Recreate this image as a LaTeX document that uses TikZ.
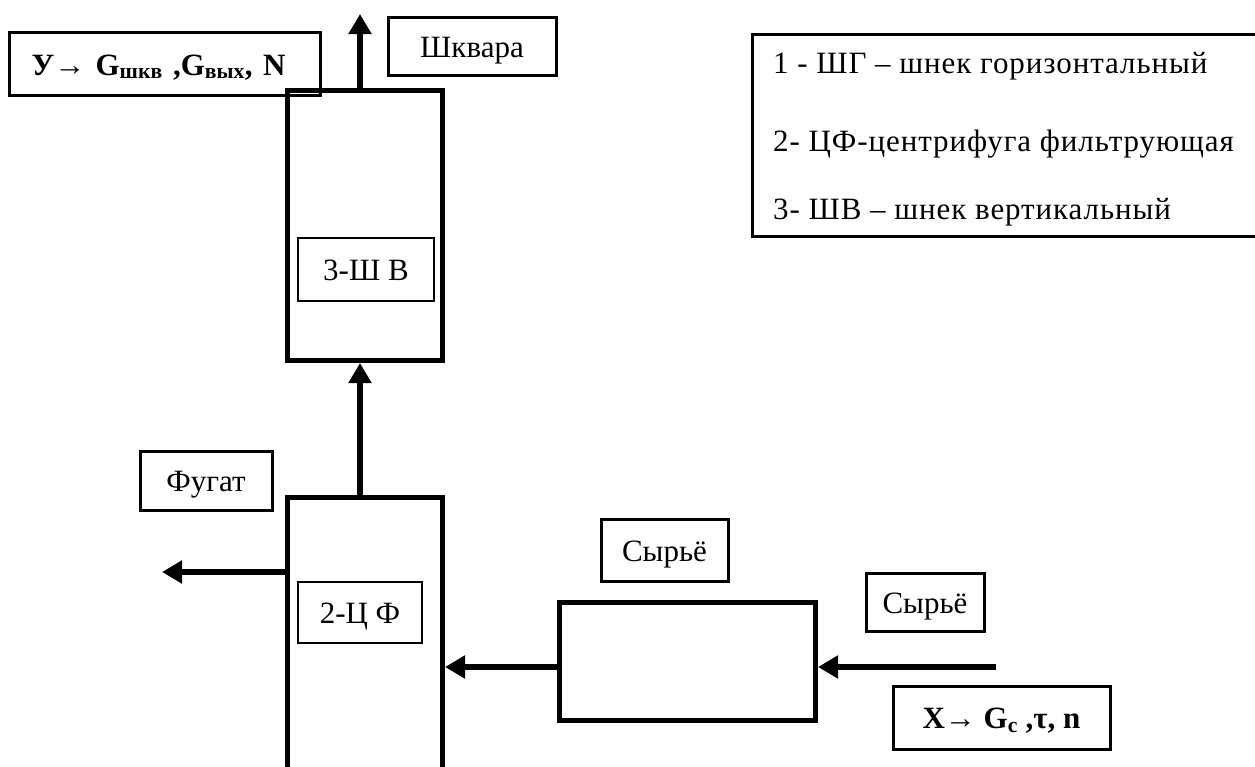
\documentclass[tikz,border=0pt]{standalone}
\usepackage{fontspec}
\setmainfont{Liberation Serif}
\usetikzlibrary{arrows.meta}
\begin{document}
\begin{tikzpicture}[x=1pt,y=-1pt,
  font=\fontsize{31}{36}\selectfont,
  thickbox/.style={draw,line width=5pt,inner sep=0pt},
  thinbox/.style={draw,line width=2.5pt,inner sep=0pt,text height=22pt,text depth=0pt},
  labelbox/.style={draw,line width=3pt,inner sep=0pt,text height=22pt,text depth=0pt},
  legendtext/.style={anchor=base west,inner sep=0pt,font=\fontsize{31}{36}\selectfont\addfontfeature{LetterSpace=3}},
  arr/.style={line width=6pt,-{Triangle[length=20pt,width=22pt]}}]
\useasboundingbox (0,0) rectangle (1255,766);
\clip (0,0) rectangle (1255,766);
% process units
\node[thickbox,minimum width=155pt,minimum height=270pt] (shv) at (365,225.5) {};
\node[thinbox,minimum width=136pt,minimum height=63pt] (shvl) at (366,269.5) {3-Ш В};
\node[thickbox,minimum width=155pt,minimum height=310pt] (cf) at (365,652.5) {};
\node[thinbox,minimum width=124pt,minimum height=61pt] (cfl) at (360,612.5) {2-Ц Ф};
\node[thickbox,minimum width=256pt,minimum height=118pt] (shg) at (687.5,661.5) {};
% labels
\node[labelbox,minimum width=311pt,minimum height=63pt,inner xsep=22pt,text width=267pt,align=left,font=\fontsize{31}{36}\selectfont\bfseries] (ybox) at (165,64) {У→ G\textsubscript{шкв} ,G\textsubscript{вых}, N};
\node[labelbox,minimum width=168pt,minimum height=58pt] (shkv) at (472,46) {Шквара};
\node[labelbox,minimum width=518pt,minimum height=202pt] (legend) at (1011,135) {};
\node[legendtext] (l1) at (773,73) {1 - ШГ – шнек горизонтальный};
\node[legendtext] (l2) at (773,151) {2- ЦФ-центрифуга фильтрующая};
\node[legendtext] (l3) at (773,219) {3- ШВ – шнек вертикальный};
\node[labelbox,minimum width=132pt,minimum height=59pt] (fug) at (206,480.5) {Фугат};
\node[labelbox,minimum width=127pt,minimum height=62pt] (syr1) at (664.5,550) {Сырьё};
\node[labelbox,minimum width=118pt,minimum height=58pt] (syr2) at (925,602) {Сырьё};
\node[labelbox,minimum width=217pt,minimum height=63pt,font=\fontsize{31}{36}\selectfont\bfseries] (xbox) at (1001.5,717.5) {X→ G\textsubscript{с} ,τ, n};
% free ends
\coordinate (outtop) at (360,14);
\coordinate (outfug) at (162,572);
\coordinate (inraw) at (996,667);
% connectors
\draw[arr] (shv.north -| outtop) -- (outtop);
\draw[arr] (cf.north -| outtop) -- (shv.south -| outtop);
\draw[arr] (cf.west |- outfug) -- (outfug);
\draw[arr] (shg.west |- inraw) -- (cf.east |- inraw);
\draw[arr] (inraw) -- (shg.east |- inraw);
\end{tikzpicture}
\end{document}
